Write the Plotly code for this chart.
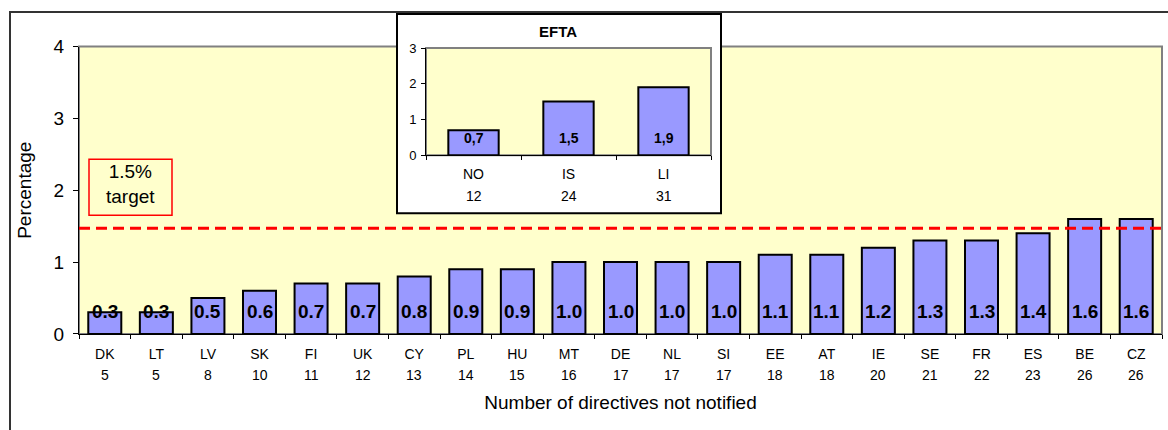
import plotly.graph_objects as go

# ---------------- data ----------------
countries = ["DK", "LT", "LV", "SK", "FI", "UK", "CY", "PL", "HU", "MT", "DE",
             "NL", "SI", "EE", "AT", "IE", "SE", "FR", "ES", "BE", "CZ"]
not_notified = [5, 5, 8, 10, 11, 12, 13, 14, 15, 16, 17,
                17, 17, 18, 18, 20, 21, 22, 23, 26, 26]
percentage = [0.3, 0.3, 0.5, 0.6, 0.7, 0.7, 0.8, 0.9, 0.9, 1.0, 1.0,
              1.0, 1.0, 1.1, 1.1, 1.2, 1.3, 1.3, 1.4, 1.6, 1.6]

efta_countries = ["NO", "IS", "LI"]
efta_not_notified = [12, 24, 31]
efta_percentage = [0.7, 1.5, 1.9]

target_value = 1.47          # position of the dashed "1.5% target" line as drawn
target_label = "1.5%<br>target"

# ---------------- layout helpers ----------------
W, H = 1168, 430
FONT = "Arial, Liberation Sans, sans-serif"
BAR = "#9999FF"
YELLOW = "#FFFFCC"
GREY = "#808080"

# vertical correction observed in the captured picture
OFF, SC = 10.0, 0.95


def fx(p):
    return p / W


def fy(p):
    return 1 - ((p - OFF) / SC) / H


# main plot area in (picture) pixels
MX0, MX1, MY0, MY1 = 79, 1162, 333.5, 46.5
# inset plot area in pixels
IX0, IX1, IY0, IY1 = 426, 711, 155, 48


def ix(p):
    return (p - IX0) / (IX1 - IX0)


def iy(p):
    return (IY0 - p) / (IY0 - IY1)


fig = go.Figure()

fig.add_trace(go.Bar(
    x=countries, y=percentage, xaxis="x", yaxis="y",
    marker=dict(color=BAR, line=dict(color="black", width=2)),
    width=0.64, hoverinfo="x+y", showlegend=False,
))
fig.add_trace(go.Bar(
    x=efta_countries, y=efta_percentage, xaxis="x2", yaxis="y2",
    marker=dict(color=BAR, line=dict(color="black", width=2)),
    width=0.53, hoverinfo="x+y", showlegend=False,
))

shapes = [
    # main plot background with grey frame
    dict(type="rect", xref="x domain", yref="y domain", x0=0, x1=1, y0=0, y1=1,
         fillcolor=YELLOW, line=dict(color=GREY, width=2), layer="below"),
    # inset white panel
    dict(type="rect", xref="x2 domain", yref="y2 domain",
         x0=ix(397), x1=ix(721), y0=iy(213), y1=iy(14),
         fillcolor="white", line=dict(color="black", width=2), layer="below"),
    # inset plot background
    dict(type="rect", xref="x2 domain", yref="y2 domain", x0=0, x1=1, y0=0, y1=1,
         fillcolor=YELLOW, line=dict(color=GREY, width=2), layer="below"),
    # target line
    dict(type="line", xref="x domain", yref="y", x0=0, x1=1,
         y0=target_value, y1=target_value,
         line=dict(color="#FF0000", width=3, dash="11px,6px"), layer="above"),
    # target label box
    dict(type="rect", xref="paper", yref="paper",
         x0=fx(89), x1=fx(172), y0=fy(215), y1=fy(159),
         line=dict(color="#FF0000", width=1.5), layer="above"),
    # outer frame
    dict(type="rect", xref="paper", yref="paper",
         x0=fx(10), x1=fx(1180), y0=fy(470), y1=fy(12),
         line=dict(color="#333333", width=2), layer="above"),
]

annotations = []
# main bar value labels
for c, v in zip(countries, percentage):
    annotations.append(dict(x=c, y=0, xref="x", yref="y", text=f"{v:.1f}",
                            showarrow=False, yanchor="bottom", yshift=10,
                            font=dict(family=FONT, size=19, color="black", weight="bold")))
# main second label row (number of directives)
for c, n in zip(countries, not_notified):
    annotations.append(dict(x=c, y=fy(375), xref="x", yref="paper", text=str(n),
                            showarrow=False, yanchor="middle",
                            font=dict(family=FONT, size=14, color="black")))
# inset bar value labels
for c, v in zip(efta_countries, efta_percentage):
    annotations.append(dict(x=c, y=0, xref="x2", yref="y2", text=f"{v:.1f}".replace(".", ","),
                            showarrow=False, yanchor="bottom", yshift=7.5,
                            font=dict(family=FONT, size=14, color="black", weight="bold")))
# inset second label row
for c, n in zip(efta_countries, efta_not_notified):
    annotations.append(dict(x=c, y=fy(196), xref="x2", yref="paper", text=str(n),
                            showarrow=False, yanchor="middle",
                            font=dict(family=FONT, size=14, color="black")))
# inset title
annotations.append(dict(x=fx(558), y=fy(31), xref="paper", yref="paper", text="EFTA",
                        showarrow=False, xanchor="center", yanchor="middle",
                        font=dict(family=FONT, size=15, color="black", weight="bold")))
# target text
annotations.append(dict(x=fx(130.5), y=fy(184), xref="paper", yref="paper", text=target_label,
                        showarrow=False, xanchor="center", yanchor="middle", align="center",
                        font=dict(family=FONT, size=19, color="black")))

axis_common = dict(showline=True, linecolor="black", linewidth=1, ticks="outside",
                   tickcolor="black", showgrid=False, zeroline=False, fixedrange=True)

fig.update_layout(
    width=W, height=H,
    margin=dict(l=0, r=0, t=0, b=0),
    paper_bgcolor="white", plot_bgcolor="rgba(0,0,0,0)",
    font=dict(family=FONT, color="black"),
    showlegend=False, bargap=0.36,
    xaxis=dict(axis_common, domain=[fx(MX0), fx(MX1)], anchor="y", type="category",
               tickson="boundaries", ticklen=4, ticklabelstandoff=7,
               tickfont=dict(family=FONT, size=14),
               title=dict(text="Number of directives not notified",
                          font=dict(family=FONT, size=19), standoff=35)),
    yaxis=dict(axis_common, domain=[fy(MY0), fy(MY1)], anchor="x", range=[0, 4],
               dtick=1, ticklen=5, ticklabelstandoff=5, tickfont=dict(family=FONT, size=19),
               title=dict(text="Percentage", font=dict(family=FONT, size=19), standoff=16)),
    xaxis2=dict(axis_common, domain=[fx(IX0), fx(IX1)], anchor="y2", type="category",
                tickson="boundaries", ticklen=4, ticklabelstandoff=6,
                tickfont=dict(family=FONT, size=14)),
    yaxis2=dict(axis_common, domain=[fy(IY0), fy(IY1)], anchor="x2", range=[0, 3],
                dtick=1, ticklen=4, ticklabelstandoff=2, tickfont=dict(family=FONT, size=13)),
    shapes=shapes,
    annotations=annotations,
)

fig.write_html(
    "out.html",
    config={"displayModeBar": False},
    post_script="document.body.style.margin='0';",
)
